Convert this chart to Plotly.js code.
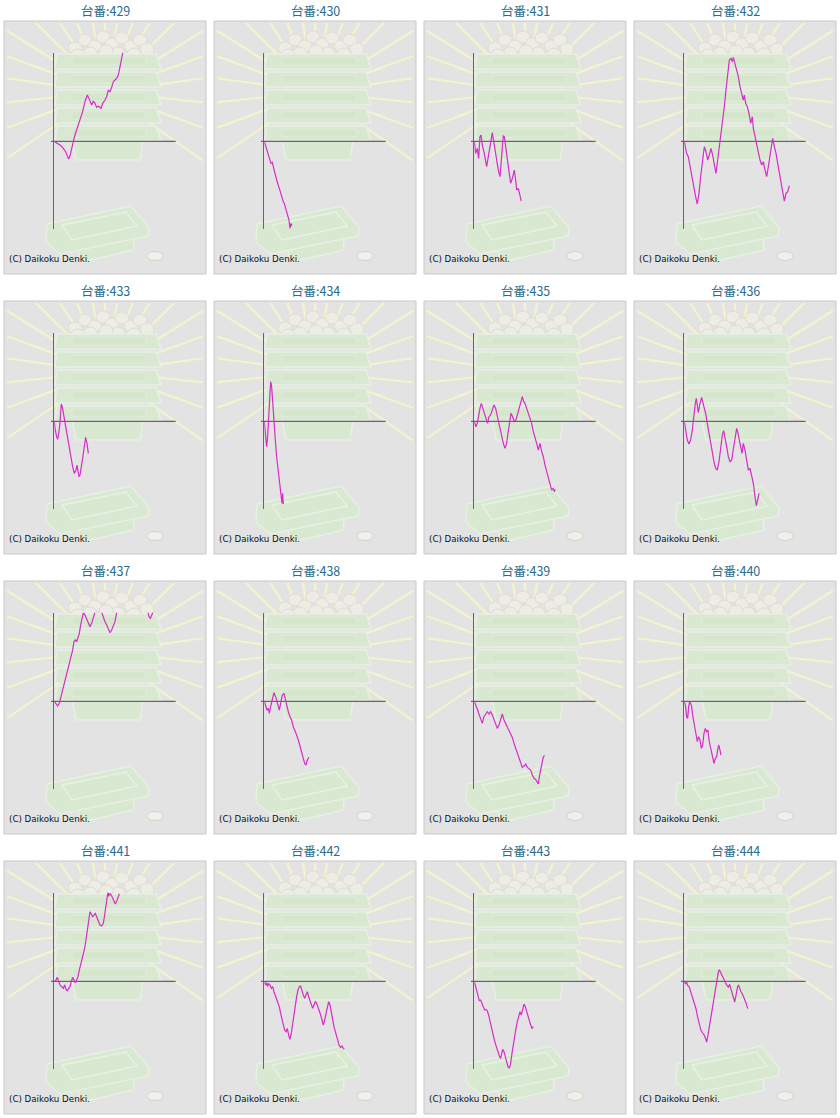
<!DOCTYPE html>
<html>
<head>
<meta charset="utf-8">
<script src="https://cdn.plot.ly/plotly-3.0.1.min.js"></script>
<style>
  body { margin: 0; background: #fff; }
  #chart { width: 840px; height: 1118px; }
</style>
</head>
<body>
<div id="chart"></div>
<script>
// machine numbers, one small chart each
var machines = ["429", "430", "431", "432", "433", "434", "435", "436",
                "437", "438", "439", "440", "441", "442", "443", "444"];

// g = games played (axis units), c = coin difference (axis units)
var g429 = [0,7,15,20,27,34,40,43,47,52,57,62,69,77,85,92,99,105,112,117,122,127,133,140,145,152,157,162,167,172,177,182,187,192,195,199,202,205,209];
var c429 = [0,-4,-8,-13,-21,-31,-46,-53,-44,-26,-1,19,39,64,89,119,139,126,109,121,114,102,106,98,114,124,134,154,149,162,179,184,189,199,214,234,249,264,284];

var g430 = [0,7,15,20,24,29,37,45,52,57,60,65,70,74,77,80,83];
var c430 = [0,-21,-46,-66,-63,-86,-116,-141,-166,-181,-186,-206,-226,-236,-261,-246,-254];

var g431 = [0,4,9,13,17,20,25,30,37,42,47,54,59,65,72,77,82,87,90,95,100,105,109,114,120,124,127,132,137,141];
var c431 = [0,-36,-21,-51,14,19,-16,-36,-76,-46,-16,26,-6,-46,-86,-106,-46,16,14,-26,-66,-96,-126,-111,-86,-116,-146,-141,-166,-179];

var g432 = [0,7,12,19,27,34,39,44,49,55,60,65,70,75,80,85,90,95,100,105,110,115,120,125,130,135,140,144,147,152,157,162,167,172,177,180,184,189,194,199,204,207,212,217,222,227,232,237,242,247,252,257,262,265,270,275,280,285,290,295,300,305,310,315];
var c432 = [0,-36,-46,-86,-136,-166,-188,-156,-106,-56,-16,-31,-56,-41,-21,-41,-66,-96,-56,-16,24,54,104,154,204,244,249,239,252,234,219,194,164,139,124,139,114,104,84,54,74,39,14,-6,-26,-56,-71,-61,-86,-106,-76,-46,-6,9,-16,-36,-66,-96,-126,-156,-179,-156,-151,-133];

var g433 = [0,2,7,10,14,17,21,25,29,34,40,45,50,55,60,65,68,71,74,77,81,85,90,94,98,102];
var c433 = [0,-21,-46,-54,-31,-6,52,39,14,-16,-46,-76,-106,-136,-156,-146,-131,-151,-166,-161,-141,-111,-76,-48,-66,-96];

var g434 = [0,3,7,10,13,17,19,22,25,29,33,37,42,47,50,53,55,57];
var c434 = [0,-46,-76,-46,24,94,119,104,54,-6,-56,-106,-156,-206,-236,-246,-216,-248];

var g435 = [0,5,9,13,17,21,25,30,35,40,44,49,54,59,64,69,73,77,82,87,92,97,101,105,110,115,120,125,130,135,140,144,148,152,157,162,167,172,177,182,187,192,197,202,207,212,217,222,227,232,237,240,243];
var c435 = [0,-16,-6,24,39,54,39,24,9,-6,14,19,34,49,39,14,-6,-26,-46,-66,-81,-66,-36,-6,24,14,-1,4,24,44,59,74,59,54,39,24,9,-6,-31,-46,-66,-86,-66,-91,-106,-131,-151,-171,-191,-206,-201,-211,-204];

var g436 = [0,4,9,14,19,24,29,33,36,39,42,47,52,55,59,64,69,74,79,84,89,94,99,104,109,114,118,122,127,132,137,142,147,152,157,161,165,169,173,177,182,187,192,197,202,207,212,216,220,224];
var c436 = [0,-26,-56,-68,-56,-26,24,54,69,44,26,54,72,59,44,24,-6,-36,-66,-96,-121,-141,-146,-121,-76,-41,-28,-46,-76,-106,-121,-116,-86,-46,-21,-36,-56,-76,-96,-66,-86,-116,-146,-141,-166,-186,-226,-253,-236,-216];

var g437 = [0,5,10,15,20,25,30,35,40,45,50,55,59,63,67,71,75,79,83,87,92,97,102,107,112,117,122,127,134,142,147,152,157,162,167,172,177,182,187,195,215,235,255,270,281,284,288,292,295,300];
var c437 = [0,-8,-14,-6,14,34,54,74,89,109,129,154,179,184,179,189,204,229,249,266,259,246,234,224,234,249,266,284,290,266,249,239,229,219,206,214,229,239,266,300,330,345,320,300,266,254,249,259,266,290];

var g438 = [0,4,8,12,15,19,24,29,34,39,45,49,54,59,63,67,72,77,82,87,92,97,102,107,112,117,121,125,129,134];
var c438 = [0,-16,-26,-21,-36,-16,4,26,14,-6,-26,-6,19,24,4,-16,-31,-46,-56,-76,-86,-101,-116,-136,-156,-176,-186,-191,-176,-168];

var g439 = [0,5,10,15,20,24,29,34,39,44,49,54,59,64,69,74,79,84,89,94,99,104,109,114,119,124,129,134,139,144,149,154,159,164,169,174,179,184,189,192,195,199,203,207,211];
var c439 = [0,-11,-26,-41,-56,-66,-46,-36,-31,-38,-31,-41,-56,-66,-81,-71,-54,-38,-56,-66,-76,-91,-101,-108,-126,-141,-156,-171,-186,-198,-194,-188,-198,-201,-206,-221,-231,-234,-241,-248,-226,-206,-186,-166,-162];

var g440 = [0,4,7,10,13,16,19,22,25,28,32,36,39,43,47,51,55,59,63,67,71,74,78,82,86,89,93,97,100,103,107,110];
var c440 = [0,-16,-46,-51,-16,-1,-6,-16,-41,-56,-76,-96,-121,-106,-116,-141,-131,-96,-81,-91,-86,-116,-136,-146,-171,-186,-171,-166,-146,-131,-146,-161];

var g441 = [0,5,9,13,17,22,27,31,35,39,43,47,51,55,59,63,67,71,75,79,83,87,91,95,99,103,107,111,115,119,123,127,132,137,142,147,151,155,158,161,163,167,171,175,179,183,187,191,195];
var c441 = [0,4,12,-1,-11,-16,-21,-11,-24,-28,-21,-16,-1,12,4,-4,4,14,34,49,64,79,99,124,154,184,209,202,194,199,204,194,179,169,166,174,199,234,262,270,255,264,258,250,240,232,240,252,263];

var g442 = [0,4,7,10,13,17,21,25,29,33,37,41,45,49,53,57,61,65,69,73,77,81,85,89,93,97,101,105,109,113,117,121,125,129,133,137,141,145,149,153,157,161,165,169,173,177,181,185,189,193,197,201,205,209,213,217,221,225,229,233,237,240];
var c442 = [0,-11,-4,-16,-6,-11,-21,-16,-31,-41,-51,-66,-76,-96,-116,-131,-146,-151,-141,-161,-174,-156,-126,-96,-71,-46,-26,-16,-14,-31,-41,-51,-41,-31,-46,-56,-66,-81,-71,-61,-66,-76,-86,-101,-116,-131,-116,-96,-76,-61,-71,-96,-121,-136,-151,-166,-186,-194,-198,-194,-201,-204];

var g443 = [0,4,8,12,15,19,23,27,31,35,39,43,47,51,55,59,63,67,71,75,79,82,85,89,93,97,101,105,109,113,117,121,125,129,133,137,141,145,149,153,157,161,165,169,173,177];
var c443 = [0,-16,-31,-46,-58,-56,-66,-81,-86,-84,-88,-101,-121,-141,-156,-171,-186,-201,-216,-224,-231,-221,-204,-211,-226,-241,-256,-261,-246,-216,-186,-161,-141,-121,-106,-91,-101,-81,-68,-76,-91,-106,-116,-131,-141,-136];

var g444 = [0,3,7,10,15,20,25,30,35,40,45,50,55,60,64,67,70,74,78,82,86,90,94,98,102,105,108,112,116,120,124,128,132,136,140,144,148,151,154,157,160,163,166,170,174,178,182,186,190];
var c444 = [0,-7,-2,-12,-17,-32,-47,-62,-82,-107,-127,-147,-155,-162,-172,-182,-167,-142,-117,-92,-67,-37,-12,13,28,35,28,23,13,1,-5,-12,-17,-9,-22,-37,-52,-62,-47,-27,-15,-12,-22,-32,-37,-47,-52,-67,-82];

var gamesList = [g429, g430, g431, g432, g433, g434, g435, g436, g437, g438, g439, g440, g441, g442, g443, g444];
var coinsList = [c429, c430, c431, c432, c433, c434, c435, c436, c437, c438, c439, c440, c441, c442, c443, c444];

var W = 840, H = 1118, CW = 210, RH = 280;

// local panel pixel -> paper coordinates
function px(c, lx) { return (c * CW + lx) / W; }
function py(r, ly) { return 1 - (r * RH + ly) / H; }

function poly(c, r, pts, fill, line, lw) {
  var d = pts.map(function(p, i) {
    return (i ? 'L' : 'M') + px(c, p[0]).toFixed(5) + ',' + py(r, p[1]).toFixed(5);
  }).join('') + 'Z';
  return {type: 'path', xref: 'paper', yref: 'paper', layer: 'below', path: d,
          fillcolor: fill, line: {color: line, width: lw}};
}

function ellipse(c, r, cx, cy, rx, ry, fill, line) {
  return {type: 'circle', xref: 'paper', yref: 'paper', layer: 'below',
          x0: px(c, cx - rx), x1: px(c, cx + rx), y0: py(r, cy + ry), y1: py(r, cy - ry),
          fillcolor: fill, line: {color: line, width: 1}};
}

var rayAngles = [-35, -20, -6, 8, 20, 32, 45, 57, 68, 80, 90, 100, 112, 123, 135, 148, 160, 172, 186, 200, 214];
var coinSpots = [[75,48],[85,40],[95,46],[103,37],[112,44],[122,38],[131,46],[140,40],[147,49],[90,53],[118,53],[106,51],[134,54],[78,55]];

var GREEN = '#d8e8d1', EDGE = '#e7f0e3';

function decoration(c, r) {
  var s = [];
  // panel frame
  s.push({type: 'rect', xref: 'paper', yref: 'paper', layer: 'below',
          x0: px(c, 4), x1: px(c, 206), y0: py(r, 274), y1: py(r, 21),
          fillcolor: '#e3e3e3', line: {color: '#c9c9c9', width: 1}});
  // light rays
  var cx = 105, cy = 92;
  rayAngles.forEach(function(a) {
    var dx = Math.cos(a * Math.PI / 180), dy = -Math.sin(a * Math.PI / 180);
    var t = 160;
    if (dx > 0) t = Math.min(t, (203 - cx) / dx);
    if (dx < 0) t = Math.min(t, (7 - cx) / dx);
    if (dy < 0) t = Math.min(t, (23 - cy) / dy);
    s.push({type: 'line', xref: 'paper', yref: 'paper', layer: 'below',
            x0: px(c, cx + dx * 50), y0: py(r, cy + dy * 50),
            x1: px(c, cx + dx * t), y1: py(r, cy + dy * t),
            line: {color: '#f3f3cd', width: 2.2}});
  });
  // coins on top of the boxes
  coinSpots.forEach(function(p) {
    s.push(ellipse(c, r, p[0], p[1], 7, 6, '#eeede5', '#dedcd2'));
  });
  // stacked boxes
  s.push(poly(c, r, [[72,140],[143,140],[140,160],[76,160]], GREEN, EDGE, 1.5));
  for (var k = 4; k >= 0; k--) {
    var y0 = 54 + k * 18;
    s.push(poly(c, r, [[57,y0],[156,y0],[161,y0+15],[55,y0+15]], GREEN, EDGE, 1.5));
    s.push(poly(c, r, [[72,y0+3],[146,y0+3],[146,y0+11],[72,y0+11]], '#d5e6cd', '#deecd8', 1));
  }
  // coin tray
  s.push(poly(c, r, [[76,246],[133,234],[134,250],[82,262]], GREEN, EDGE, 1.5));
  s.push(poly(c, r, [[47,224],[131,206],[149,228],[148,236],[60,254],[46,242]], GREEN, EDGE, 1.5));
  s.push(poly(c, r, [[62,225],[126,212],[137,226],[72,240]], 'rgba(0,0,0,0)', '#e8f2e4', 1.5));
  // loose coin
  s.push(ellipse(c, r, 155, 256, 8, 4.5, '#f1f1ec', '#d4d4cc'));
  return s;
}

var data = [], shapes = [], annotations = [], layout = {};

machines.forEach(function(m, i) {
  var r = Math.floor(i / 4), c = i % 4;
  var n = i === 0 ? '' : String(i + 1);

  layout['xaxis' + n] = {
    domain: [px(c, 54.3), px(c, 175.7)], range: [0, 364], anchor: 'y' + n,
    showgrid: false, zeroline: false, showline: false, showticklabels: false, ticks: '', fixedrange: true
  };
  layout['yaxis' + n] = {
    domain: [py(r, 228.7), py(r, 52.7)], range: [-262, 266], anchor: 'x' + n,
    showgrid: false, zeroline: false, showline: true, linecolor: '#666666', linewidth: 1.2,
    showticklabels: false, ticks: '', fixedrange: true
  };

  shapes = shapes.concat(decoration(c, r));
  // horizontal axis, starting a bit left of the vertical one
  shapes.push({type: 'line', xref: 'paper', yref: 'y' + n, layer: 'below',
               x0: px(c, 51), x1: px(c, 175.7), y0: 0, y1: 0,
               line: {color: '#666666', width: 1.2}});

  data.push({
    type: 'scatter', mode: 'lines', xaxis: 'x' + n, yaxis: 'y' + n,
    x: gamesList[i], y: coinsList[i],
    line: {color: '#d62cc8', width: 1.2}, hoverinfo: 'skip', showlegend: false
  });

  annotations.push({
    text: '台番:' + m, xref: 'paper', yref: 'paper', x: px(c, 105), y: py(r, 10.5),
    xanchor: 'center', yanchor: 'middle', showarrow: false,
    font: {family: 'Noto Sans CJK JP', size: 12.5, color: '#2b6b8c'}
  });
  annotations.push({
    text: '(C) Daikoku Denki.', xref: 'paper', yref: 'paper', x: px(c, 6.5), y: py(r, 259),
    xanchor: 'left', yanchor: 'middle', showarrow: false,
    font: {family: 'DejaVu Sans', size: 8.7, color: '#111111'}
  });
});

layout.width = W;
layout.height = H;
layout.margin = {l: 0, r: 0, t: 0, b: 0};
layout.paper_bgcolor = '#ffffff';
layout.plot_bgcolor = 'rgba(0,0,0,0)';
layout.showlegend = false;
layout.shapes = shapes;
layout.annotations = annotations;

Plotly.newPlot('chart', data, layout, {staticPlot: true});
</script>
</body>
</html>
